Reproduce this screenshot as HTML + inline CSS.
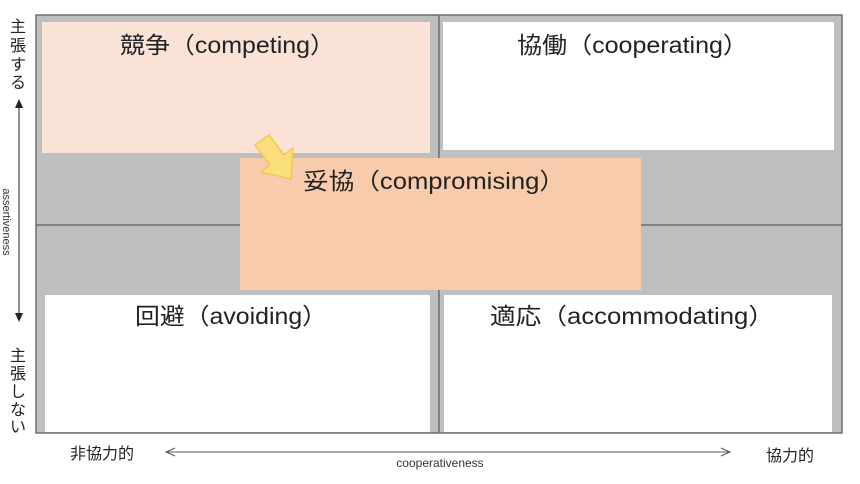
<!DOCTYPE html>
<html><head><meta charset="utf-8"><style>
html,body{margin:0;padding:0;background:#fff;}
svg{display:block;}
text{font-family:"Liberation Sans","Noto Sans CJK JP",sans-serif;}
</style></head><body>
<svg width="860" height="484" viewBox="0 0 860 484" xmlns="http://www.w3.org/2000/svg">
<rect x="36" y="15" width="806" height="418" fill="#bfbfbf" stroke="#6f6f6f" stroke-width="1.5"/>
<line x1="439" y1="15" x2="439" y2="433" stroke="#6f6f6f" stroke-width="1.5"/>
<line x1="36" y1="225" x2="842" y2="225" stroke="#6f6f6f" stroke-width="1.5"/>
<rect x="42" y="22" width="388" height="131" fill="#fae3d6"/>
<rect x="443" y="22" width="391" height="128" fill="#fff"/>
<rect x="45" y="295" width="385" height="137" fill="#fff"/>
<rect x="444" y="295" width="388" height="137" fill="#fff"/>
<rect x="240" y="158" width="401" height="132" fill="#f8cbad"/>
<polygon points="269,135 284,155 293,148 291,179 261,172 270,165 255,145" fill="#fbdf7f" stroke="#f2c94c" stroke-width="1.5" stroke-linejoin="round"/>
<g font-size="23" fill="#222">
<text x="120" y="53" textLength="215" lengthAdjust="spacingAndGlyphs">競争（competing）</text>
<text x="517" y="53" textLength="231" lengthAdjust="spacingAndGlyphs">協働（cooperating）</text>
<text x="303" y="189" textLength="262" lengthAdjust="spacingAndGlyphs">妥協（compromising）</text>
<text x="135" y="324" textLength="192" lengthAdjust="spacingAndGlyphs">回避（avoiding）</text>
<text x="490" y="324" textLength="284" lengthAdjust="spacingAndGlyphs">適応（accommodating）</text>
</g>
<g font-size="16" fill="#222">
<text x="10" y="32">主</text><text x="10" y="51">張</text><text x="10" y="70">す</text><text x="10" y="88">る</text>
<text x="10" y="361">主</text><text x="10" y="379">張</text><text x="10" y="397">し</text><text x="10" y="415">な</text><text x="10" y="432">い</text>
<text x="70" y="459">非協力的</text>
<text x="766" y="461">協力的</text>
</g>
<line x1="19" y1="104" x2="19" y2="318" stroke="#222" stroke-width="1"/>
<polygon points="19,99 15,108 23,108" fill="#222"/>
<polygon points="19,322 15,313 23,313" fill="#222"/>
<text transform="translate(3,222) rotate(90)" text-anchor="middle" font-size="11" fill="#333">assertiveness</text>
<line x1="166" y1="452" x2="730" y2="452" stroke="#555" stroke-width="1"/>
<polyline points="175,448 166,452 175,456" fill="none" stroke="#555" stroke-width="1"/>
<polyline points="721,448 730,452 721,456" fill="none" stroke="#555" stroke-width="1"/>
<text x="440" y="467" text-anchor="middle" font-size="12" fill="#333">cooperativeness</text>
</svg>
</body></html>
